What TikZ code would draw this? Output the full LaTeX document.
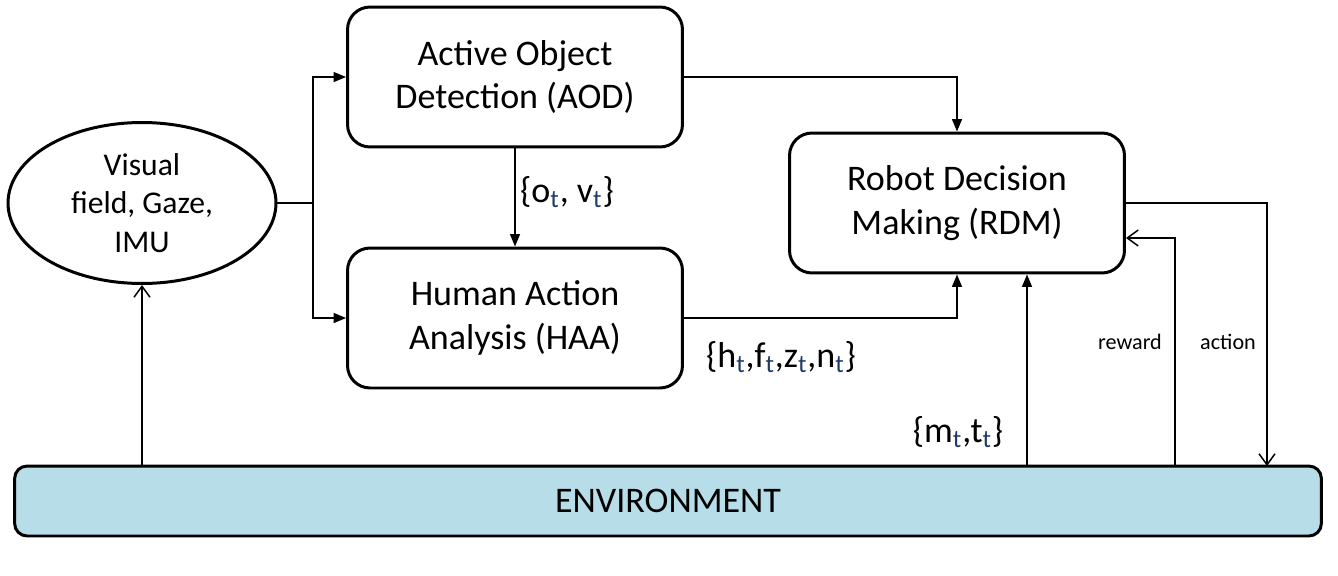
\documentclass[tikz,border=0pt]{standalone}
\usepackage{fontspec}
\setmainfont{Carlito}
\usetikzlibrary{arrows.meta,shapes.geometric}

\definecolor{envblue}{HTML}{B7DDE8}
\definecolor{subblue}{HTML}{1F3A68}
\newcommand{\tsub}{\textsubscript{\color{subblue}t}}

\tikzset{
  block/.style={draw, rounded corners=0.45cm, line width=1.7pt, minimum width=6.7cm, minimum height=2.8cm, align=center, font=\fontsize{20.5}{25}\selectfont},
  lbl/.style={font=\fontsize{20.5}{25}\selectfont},
  small/.style={font=\fontsize{12.6}{15}\selectfont},
  fill arrow/.style={-{Triangle[length=0.25cm,width=0.2cm]}, line width=0.85pt},
  open arrow/.style={-{Straight Barb[length=0.22cm,width=0.32cm]}, line width=0.85pt}
}

\begin{document}
\begin{tikzpicture}[x=0.02cm,y=-0.02cm]
\useasboundingbox (0,0) rectangle (1338,575);

\node[ellipse,draw,line width=1.7pt,minimum width=5.36cm,minimum height=3.22cm,align=center,font=\fontsize{18}{22}\selectfont] at (142,203) (vis) {Visual\\field, Gaze,\\IMU};
\node[block] at (515,77) (aod) {Active Object\\Detection (AOD)};
\node[block] at (515,318) (haa) {Human Action\\Analysis (HAA)};
\node[block] at (957,203) (rdm) {Robot Decision\\Making (RDM)};
\node[draw,fill=envblue,rounded corners=0.25cm,line width=1.7pt,minimum width=26.14cm,minimum height=1.4cm,font=\fontsize{20.5}{25}\selectfont] at (668,501) (env) {ENVIRONMENT};

\coordinate (split) at (313,203);
\coordinate (mt) at (1027,466);
\coordinate (rw) at (1175,466);
\coordinate (act) at (1267,466);

\path[draw,line width=0.85pt] (vis.east) -- (split);
\path[draw,fill arrow] (split) |- (aod.west);
\path[draw,fill arrow] (split) |- (haa.west);
\path[draw,fill arrow] (aod.south) -- (haa.north);
\path[draw,fill arrow] (aod.east) -| (rdm.north);
\path[draw,fill arrow] (haa.east) -| (rdm.south);
\path[draw,fill arrow] (mt) -- (mt |- rdm.south);
\path[draw,open arrow] (rw) |- ([yshift=-0.7cm]rdm.east);
\path[draw,open arrow] (rdm.east) -| (act);
\path[draw,open arrow] (vis.south |- env.north) -- (vis.south);

\node[lbl] at (567,192) (ov) {\{o\tsub, v\tsub\}};
\node[lbl] at (781,357) (hfzn) {\{h\tsub,f\tsub,z\tsub,n\tsub\}};
\node[lbl] at (958,432) (mtt) {\{m\tsub,t\tsub\}};
\node[small] at (1130,342) (rwl) {reward};
\node[small] at (1228,342) (actl) {action};

\end{tikzpicture}
\end{document}
